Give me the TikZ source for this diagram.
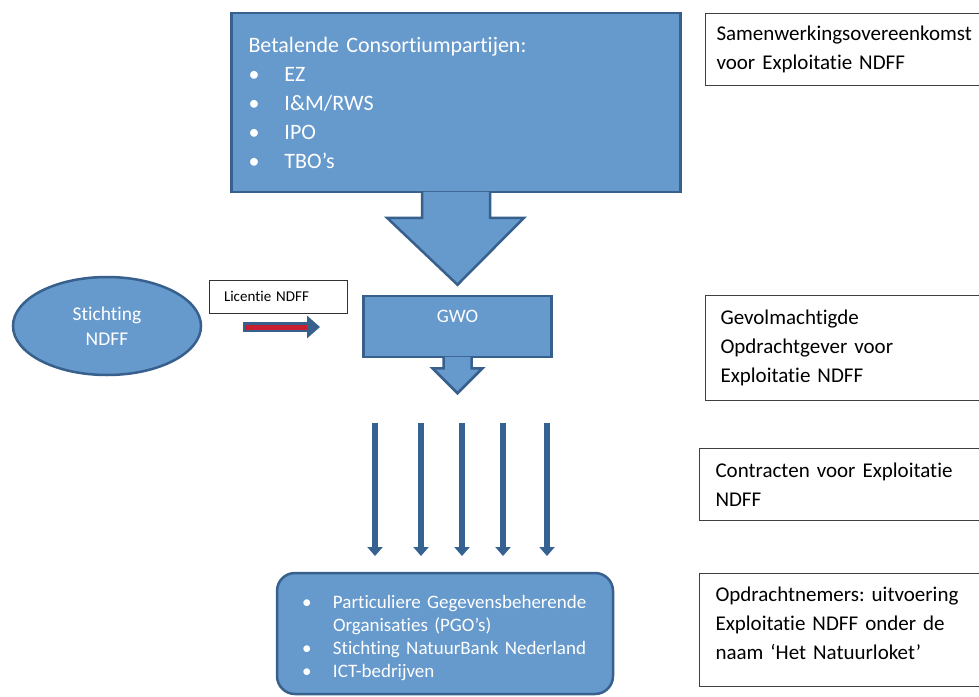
\documentclass[tikz,border=0pt]{standalone}
\usepackage{fontspec}
\setmainfont{Carlito}[Ligatures=NoCommon]
\frenchspacing
\usetikzlibrary{positioning,shapes.geometric,arrows.meta}
\definecolor{ndffblue}{RGB}{102,153,204}
\definecolor{ndffline}{RGB}{56,96,140}
\definecolor{ndffarrow}{RGB}{54,98,146}
\definecolor{ndffred}{RGB}{200,30,50}
\newcommand{\ndffbullet}[1]{\makebox[#1][l]{\textbullet}}
\begin{document}
\begin{tikzpicture}
  [x=1pt,y=-1pt,
   bluebox/.style={draw=ndffline,fill=ndffblue,line width=2.5pt,inner sep=0pt,text=white},
   blockarrow/.style={draw=ndffline,fill=ndffblue,line width=2.5pt},
   notebox/.style={draw=black!75,line width=1pt,anchor=north west,align=left,inner ysep=0pt,font=\fontsize{21}{29}\selectfont},
   contract/.style={ndffarrow,line width=6pt,-{Triangle[length=9pt,width=15pt]}}]
  \useasboundingbox (0,0) rectangle (979,696);

  % partijen en GWO
  \node[bluebox,minimum width=449pt,minimum height=179pt,text width=415pt,inner xsep=17pt,align=left,
        font=\fontsize{22}{29}\selectfont] (cons) at (456,102.5)
    {Betalende Consortiumpartijen:\\
     \ndffbullet{36pt}EZ\\
     \ndffbullet{36pt}I\&M/RWS\\
     \ndffbullet{36pt}IPO\\
     \ndffbullet{36pt}TBO’s};
  \node[bluebox,minimum width=188pt,minimum height=61pt] (gwo) at (457.5,326.5) {};
  \node[text=white,font=\fontsize{19}{22}\selectfont,below=12pt of gwo.north] {GWO};

  \filldraw[blockarrow] ([xshift=-34pt,yshift=1.5pt]cons.south) -- ++(0,26) -- ++(-35,0)
    -- ([yshift=10pt]gwo.north) -- ([xshift=68pt,yshift=-24.5pt]cons.south) -- ++(-34,0) -- ++(0,-26);
  \filldraw[blockarrow] ([xshift=-14pt,yshift=1.5pt]gwo.south) -- ++(0,11.5) -- ++(-11,0)
    -- ([yshift=-35pt]gwo.south) -- ([xshift=25pt,yshift=-10pt]gwo.south) -- ++(-11,0) -- ++(0,-11.5);

  % stichting en licentie
  \node[ellipse,bluebox,minimum width=188pt,minimum height=98pt,align=center,
        font=\fontsize{19.5}{25}\selectfont] (stichting) at (107,326) {Stichting\\NDFF};
  \node[draw=black!80,line width=1pt,text width=108pt,inner xsep=15pt,minimum height=33pt,
        font=\fontsize{15}{17}\selectfont] (licentie) at (278,296.5) {Licentie NDFF};
  \coordinate (licstart) at (243,327);
  \coordinate (licend) at (320,327);
  \draw[ndffline,line width=10pt,-{Triangle[length=13pt,width=22pt]}] (licstart) -- (licend);
  \draw[ndffred,line width=5pt] ([xshift=2pt]licstart) -- ([xshift=-13pt]licend);

  % opdrachtnemers
  \node[bluebox,rounded corners=18pt,minimum width=336pt,minimum height=121pt] (opdr) at (445,633.5) {};
  \node[text=white,text width=286pt,inner sep=0pt,align=left,font=\fontsize{19}{23.3}\selectfont]
    at ([yshift=-4.5pt]opdr.center)
    {\ndffbullet{31pt}Particuliere Gegevensbeherende\\
     \hspace*{31pt}Organisaties (PGO’s)\\
     \ndffbullet{31pt}Stichting NatuurBank Nederland\\
     \ndffbullet{31pt}ICT-bedrijven};

  \foreach \x [count=\i] in {375,421,462,503,547} {
    \coordinate (top\i) at (\x,423);
    \coordinate (tip\i) at (\x,556);
    \draw[contract] (top\i) -- (tip\i);
  }

  % toelichting rechts
  \node[notebox,text width=263pt,inner xsep=11pt,minimum height=72pt] (sok) at (705,13)
    {Samenwerkingsovereenkomst\\voor Exploitatie NDFF};
  \node[notebox,text width=255pt,inner xsep=15pt,minimum height=105pt] (gog) at (705,295)
    {Gevolmachtigde\\Opdrachtgever voor\\Exploitatie NDFF};
  \node[notebox,text width=259pt,inner xsep=16pt,minimum height=72pt] (contr) at (699,448)
    {Contracten voor Exploitatie\\NDFF};
  \node[notebox,text width=259pt,inner xsep=16pt,minimum height=113pt] (onem) at (699,573) {};
  \node[text width=259pt,inner sep=0pt,align=left,font=\fontsize{21}{29}\selectfont]
    at ([yshift=7pt]onem.center)
    {Opdrachtnemers: uitvoering\\Exploitatie NDFF onder de\\naam ‘Het Natuurloket’};
\end{tikzpicture}
\end{document}
